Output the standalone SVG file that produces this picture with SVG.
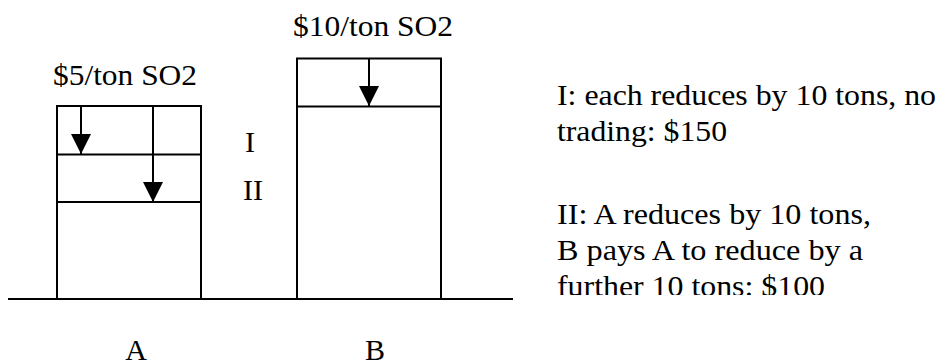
<svg xmlns="http://www.w3.org/2000/svg" width="939" height="364" viewBox="0 0 939 364">
  <style>
    .ln { stroke: #000; stroke-width: 2; fill: none; }
    .box { stroke: #000; stroke-width: 2; fill: #fff; }
    .t { font-family: "Liberation Serif", "Times New Roman", serif; font-size: 30px; fill: #000; }
    .ah { fill: #000; stroke: none; }
  </style>
  <defs>
    <marker id="arrow" markerUnits="userSpaceOnUse" markerWidth="20" markerHeight="20" refX="20" refY="10" orient="auto" viewBox="0 0 20 20">
      <path class="ah" d="M0,0 L20,10 L0,20 Z"/>
    </marker>
    <clipPath id="textclip">
      <rect x="540" y="60" width="399" height="235"/>
    </clipPath>
  </defs>
  <rect width="939" height="364" fill="#fff"/>

  <g id="ground">
    <line class="ln" x1="8" y1="299" x2="513" y2="299"/>
  </g>

  <g id="nodeA">
    <rect class="box" x="57" y="106" width="144" height="193"/>
    <line class="ln" x1="57" y1="154.5" x2="201" y2="154.5"/>
    <line class="ln" x1="57" y1="202" x2="201" y2="202"/>
    <text class="t" x="53" y="85" textLength="144" lengthAdjust="spacingAndGlyphs">$5/ton SO2</text>
    <text class="t" x="136" y="360" text-anchor="middle">A</text>
  </g>

  <g id="nodeB">
    <rect class="box" x="297" y="58.5" width="144" height="240.5"/>
    <line class="ln" x1="297" y1="106.5" x2="441" y2="106.5"/>
    <text class="t" x="293" y="36" textLength="160" lengthAdjust="spacingAndGlyphs">$10/ton SO2</text>
    <text class="t" x="375" y="360" text-anchor="middle">B</text>
  </g>

  <g id="connectors">
    <line class="ln" x1="81" y1="107" x2="81" y2="154" marker-end="url(#arrow)"/>
    <line class="ln" x1="153" y1="107" x2="153" y2="202" marker-end="url(#arrow)"/>
    <line class="ln" x1="369" y1="59" x2="369" y2="106" marker-end="url(#arrow)"/>
  </g>

  <g id="stepLabels">
    <text class="t" x="245" y="152">I</text>
    <text class="t" x="243" y="200">II</text>
  </g>

  <g id="legend" clip-path="url(#textclip)">
    <text class="t" x="557" y="105" textLength="379" lengthAdjust="spacingAndGlyphs">I: each reduces by 10 tons, no</text>
    <text class="t" x="557" y="141" textLength="170" lengthAdjust="spacingAndGlyphs">trading: $150</text>
    <text class="t" x="557" y="224" textLength="314" lengthAdjust="spacingAndGlyphs">II: A reduces by 10 tons,</text>
    <text class="t" x="557" y="260" textLength="306" lengthAdjust="spacingAndGlyphs">B pays A to reduce by a</text>
    <text class="t" x="557" y="296" textLength="268" lengthAdjust="spacingAndGlyphs">further 10 tons: $100</text>
  </g>
</svg>
